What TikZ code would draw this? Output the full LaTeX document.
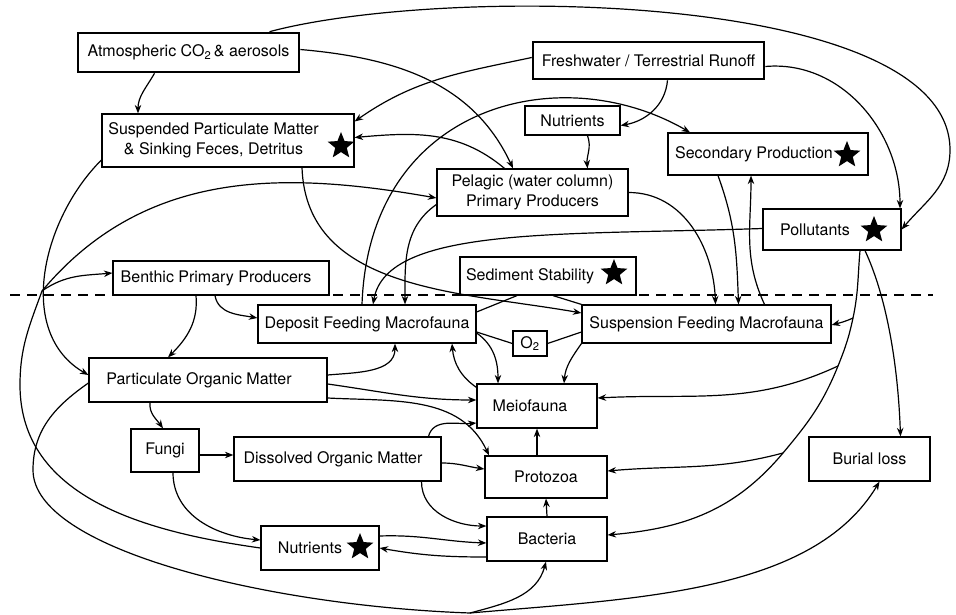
\documentclass[tikz,border=0pt]{standalone}
\usepackage{fontspec}
\setmainfont{TeX Gyre Heros}
\usetikzlibrary{arrows.meta, shapes.geometric}

\begin{document}
\begin{tikzpicture}[x=1pt, y=1pt, >={Stealth[length=8.5pt, width=6.5pt]},
		box/.style={draw, line width=1.2pt, inner sep=0pt},
		source/.style={box, line width=2.6pt},
		link/.style={line width=1.2pt, ->},
		tie/.style={line width=1.2pt},
		starmark/.style={star, star points=5, star point ratio=2.3, fill=black, inner sep=0pt, minimum size=28pt}]
		\tikzstyle{every node}=[align=center, font=\fontsize{16}{20}\selectfont]

			\useasboundingbox (0,0) rectangle (956,-615);
			\fill[white] (0,0) rectangle (956,-615);

			% water column / sediment boundary
			\draw[line width=1.1pt, dash pattern=on 10pt off 7pt] (10,-295) -- (933,-295);

			\node[source, minimum width=221pt, minimum height=39pt] (atm) at (188.5,-52.5) {Atmospheric CO\textsubscript{2}\,\& aerosols};
			\node[source, minimum width=231pt, minimum height=37pt] (fresh) at (648.5,-60.5) {Freshwater / Terrestrial Runoff};
			\node[box, minimum width=252pt, minimum height=53pt] (spm) at (228,-140.5) {Suspended Particulate Matter\hspace*{29pt}\\\& Sinking Feces, Detritus\hspace*{29pt}};
			\node[box, minimum width=95pt, minimum height=29pt] (nutt) at (572.5,-120.5) {Nutrients};
			\node[box, minimum width=200pt, minimum height=42pt] (sec) at (768,-154) {Secondary Production\hspace*{28pt}};
			\node[box, minimum width=191pt, minimum height=47pt] (pel) at (532.5,-192.5) {Pelagic (water column)\\Primary Producers};
			\node[box, minimum width=138pt, minimum height=41pt] (poll) at (832,-229.5) {Pollutants\hspace*{34pt}};
			\node[box, minimum width=216pt, minimum height=34pt] (bpp) at (221,-278) {Benthic Primary Producers\hspace*{10pt}};
			\node[box, minimum width=176pt, minimum height=38pt] (sed) at (548,-276) {Sediment Stability\hspace*{36pt}};
			\node[box, minimum width=218pt, minimum height=38pt] (dep) at (367,-324) {Deposit Feeding Macrofauna};
			\node[box, minimum width=249pt, minimum height=38pt] (susp) at (706.5,-324) {Suspension Feeding Macrofauna};
			\node[box, minimum width=34pt, minimum height=25pt] (o2) at (530,-343.5) {O\textsubscript{2}};
			\node[box, minimum width=238pt, minimum height=44pt] (pom) at (208,-380) {Particulate Organic Matter\hspace*{18pt}};
			\node[box, minimum width=120pt, minimum height=44pt] (meio) at (537,-406) {Meiofauna\hspace*{14pt}};
			\node[box, minimum width=68pt, minimum height=43pt] (fungi) at (165,-450.5) {Fungi};
			\node[box, minimum width=207pt, minimum height=44pt] (dom) at (337.5,-459) {Dissolved Organic Matter\hspace*{9pt}};
			\node[box, minimum width=122pt, minimum height=42pt] (proto) at (546,-477) {Protozoa};
			\node[box, minimum width=121pt, minimum height=44pt] (burial) at (869.5,-459) {Burial loss};
			\node[box, minimum width=120pt, minimum height=44pt] (bact) at (547,-539) {Bacteria};
			\node[box, minimum width=118pt, minimum height=44pt] (nutb) at (320,-548) {Nutrients\hspace*{20pt}};

			\node[starmark] (spmstar) at (341,-146) {};
			\node[starmark] (secstar) at (847,-155) {};
			\node[starmark] (pollstar) at (874,-230) {};
			\node[starmark] (sedstar) at (614,-273) {};
			\node[starmark] (nutbstar) at (360,-547) {};

			\coordinate (rim) at (950,-150);
			\coordinate (nwest) at (20,-385);
			\coordinate (nfork) at (42,-291);
			\coordinate (pwest) at (33,-470);
			\coordinate (bfork) at (470,-613);
			\coordinate (pa) at (853,-318);
			\coordinate (pb) at (838,-366);
			\coordinate (pc) at (783,-453);

			% inputs
			\draw[link] ([xshift=81pt]atm.north) to[out=15, in=90, out distance=180pt, in distance=160pt] (rim) to[out=-90, in=50] (poll.east);
			\draw[link] ([xshift=-34pt]atm.south) to[out=-120, in=90] ([xshift=-90pt]spm.north);
			\draw[link] ([yshift=3pt]atm.east) to[out=-5, in=115] ([xshift=-19.5pt]pel.north);
			\draw[link] ([yshift=3pt]fresh.west) to[out=192, in=35] ([yshift=19pt]spm.east);
			\draw[link] ([xshift=19pt]fresh.south) to[out=-95, in=10] ([yshift=-5pt]nutt.east);
			\draw[link] ([yshift=-6pt]fresh.east) to[out=5, in=90] ([xshift=68pt]poll.north);
			\draw[link] ([xshift=15pt]nutt.south) to[out=-70, in=95] ([xshift=55pt]pel.north);

			% water column
			\draw[link] ([xshift=-28pt]pel.north) to[out=140, in=5] ([yshift=3pt]spm.east);
			\draw[link] ([xshift=-5pt]dep.north) to[out=88, in=150, out distance=200pt, in distance=150pt] ([xshift=-78pt]sec.north);
			\draw[link] ([xshift=74pt]spm.south) to[out=-88, in=170] ([yshift=11pt]susp.west);
			\draw[link] ([yshift=-19.5pt]spm.west) to[out=-135, in=150] ([yshift=5pt]pom.west);
			\draw[link] ([yshift=-12pt]pel.west) to[out=215, in=90] ([xshift=38pt]dep.north);
			\draw[link] ([yshift=1pt]poll.west) to[out=182, in=80, out distance=200pt, in distance=80pt] ([xshift=6pt]dep.north);
			\draw[link] (pel.east) to[out=0, in=92] ([xshift=9pt]susp.north);
			\draw[link] ([xshift=-50pt]sec.south) to[out=-70, in=92] ([xshift=32pt]susp.north);
			\draw[link] ([xshift=58pt]susp.north) to[out=115, in=-90] ([xshift=-17pt]sec.south);

			% nutrient recycling to producers
			\draw[tie] (nutb.west) to[out=172, in=-90] (nwest) to[out=90, in=250] (nfork);
			\draw[link] (nfork) to[out=50, in=170] ([yshift=-5.5pt]pel.west);
			\draw[link] (nfork) to[out=35, in=185] ([yshift=5pt]bpp.west);

			% pollutants
			\draw[link] ([xshift=28pt]poll.south) to[out=-95, in=78] (pa) to[out=-102, in=68] (pb) to[out=-112, in=50] (pc) to[out=230, in=5] ([yshift=4pt]bact.east);
			\draw[link] (pa) to[out=205, in=15] ([yshift=-1pt]susp.east);
			\draw[link] (pb) to[out=205, in=3] ([yshift=8pt]meio.east);
			\draw[link] (pc) to[out=195, in=5] ([yshift=6pt]proto.east);
			\draw[link] ([xshift=33pt]poll.south) to[out=-65, in=92, out distance=50pt] ([xshift=31pt]burial.north);

			% benthos
			\draw[link] ([xshift=-25pt]bpp.south) to[out=-85, in=45] ([xshift=-40pt]pom.north);
			\draw[link] ([xshift=-6pt]bpp.south) to[out=-80, in=170] ([yshift=6pt]dep.west);
			\draw[link] ([yshift=5pt]pom.east) to[out=5, in=-90] ([xshift=28pt]dep.south);
			\draw[link] ([yshift=-4pt]pom.east) to[out=-8, in=180] ([yshift=6pt]meio.west);
			\draw[link] ([yshift=-18pt]pom.east) to[out=-3, in=115] ([xshift=-57pt]proto.north);
			\draw[link] ([xshift=-58pt]pom.south) to[out=-95, in=125] ([xshift=-2pt]fungi.north);
			\draw[tie] ([yshift=-3pt]pom.west) to[out=215, in=90] (pwest) to[out=-90, in=178, out distance=80pt, in distance=200pt] (bfork);
			\draw[link] (bfork) to[out=15, in=-105] ([xshift=-1pt]bact.south);
			\draw[link] (bfork) to[out=5, in=-121, in distance=130pt] ([xshift=10pt]burial.south);
			\draw[link] ([yshift=-4.5pt]fungi.east) -- ([yshift=4pt]dom.west);
			\draw[link] ([xshift=8pt]fungi.south) to[out=-90, in=175] ([yshift=8pt]nutb.west);
			\draw[link] ([yshift=-4pt]dom.east) to[out=0, in=172] ([yshift=8pt]proto.west);
			\draw[link] ([xshift=91pt]dom.north) to[out=75, in=185] ([yshift=-17pt]meio.west);
			\draw[link] ([xshift=84pt]dom.south) to[out=-90, in=180] ([yshift=13pt]bact.west);
			\draw[link] ([yshift=12pt]nutb.east) to[out=2, in=178] ([yshift=-4pt]bact.west);
			\draw[link] ([yshift=-18pt]bact.west) to[out=180, in=-10] (nutb.east);
			\draw[link] (bact.north) -- (proto.south);
			\draw[link] ([xshift=-9pt]proto.north) -- (meio.south);
			\draw[link] ([yshift=-4pt]meio.north west) to[out=145, in=-85] ([xshift=85pt]dep.south);
			\draw[link] ([yshift=-9pt]dep.east) to[out=-35, in=90] ([xshift=-39pt]meio.north);
			\draw[link] (susp.south west) to[out=-125, in=85] ([xshift=27pt]meio.north);

			\draw[tie] ([xshift=-31pt]sed.south) -- ([yshift=12pt]dep.east);
			\draw[tie] ([xshift=5pt]sed.south) -- (susp.north west);
			\draw[tie] ([yshift=-8pt]dep.east) -- (o2.west);
			\draw[tie] (o2.east) -- ([yshift=-8pt]susp.west);
		\end{tikzpicture}
\end{document}
